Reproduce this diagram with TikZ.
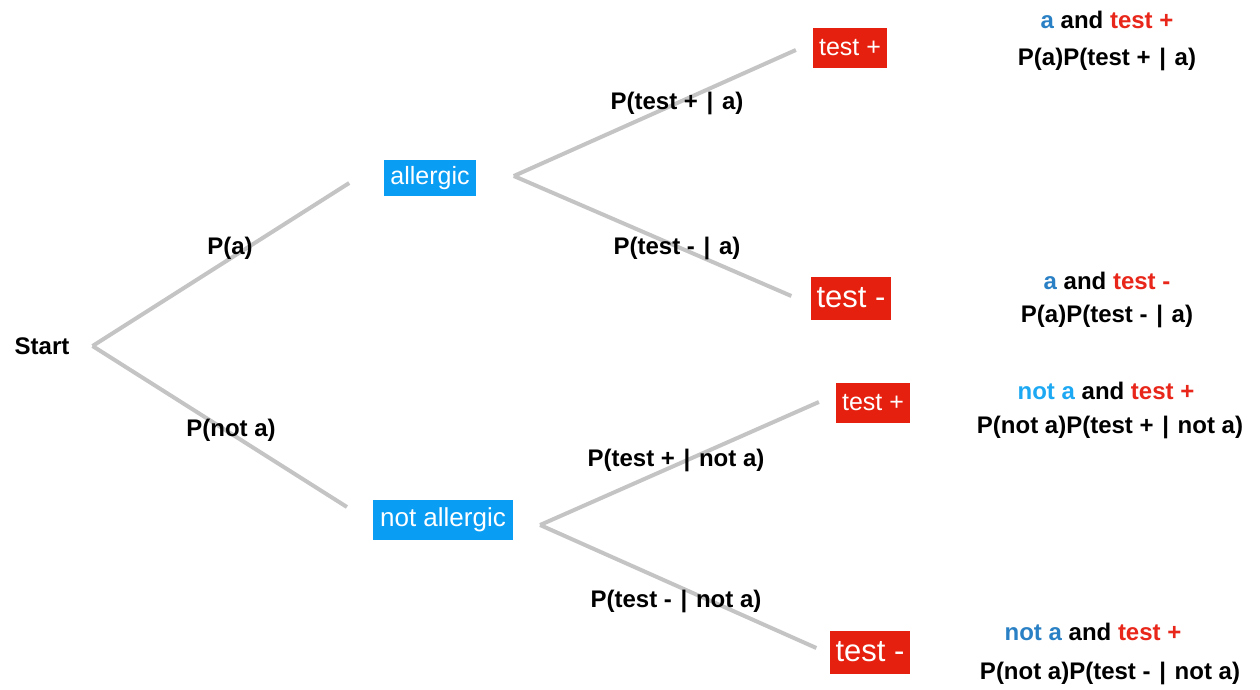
\documentclass[tikz,border=0pt]{standalone}
\usepackage{fontspec}
\setmainfont{Liberation Sans}
\usetikzlibrary{calc}
\definecolor{boxblue}{HTML}{0A9DF4}
\definecolor{boxred}{HTML}{E6200F}
\definecolor{txtred}{HTML}{E8261A}
\definecolor{txtblue}{HTML}{2A80C4}
\definecolor{txtlblue}{HTML}{1CA8F2}
\definecolor{linegray}{HTML}{C4C4C4}
\newcommand{\gbar}{\kern2pt|\kern2pt}
\tikzset{
  lbl/.style={font=\fontsize{24}{27}\selectfont\bfseries, text=black, inner sep=0pt},
  bluebox/.style={fill=boxblue, text=white, font=\fontsize{25}{28}\selectfont, inner sep=6pt, minimum height=36pt},
  redbox/.style={fill=boxred, text=white, font=\fontsize{25}{28}\selectfont, inner sep=6pt, minimum height=40pt},
  bigredbox/.style={fill=boxred, text=white, font=\fontsize{31}{34}\selectfont, inner sep=6pt, minimum height=43pt},
  branch/.style={draw=linegray, line width=4pt}
}
\begin{document}
\begin{tikzpicture}[x=1pt,y=-1pt]
\useasboundingbox (0,0) rectangle (1260,690);
% nodes
\node[lbl] (start) at (42,346) {Start};
\node[bluebox] (al) at (430,178) {allergic};
\node[bluebox, font=\fontsize{26}{29}\selectfont, inner xsep=7pt, minimum height=40pt] (na) at (443,520) {not allergic};
\node[redbox] (t1) at (850,48) {test +};
\node[bigredbox] (t2) at (851,298) {test -};
\node[redbox] (t3) at (873,403) {test +};
\node[bigredbox] (t4) at (870,652) {test -};
% connectors
\draw[branch] ($(start.east)+(23,0)$) -- ($(al.west)+(-35,5)$);
\draw[branch] ($(start.east)+(23,0)$) -- ($(na.west)+(-26,-13)$);
\draw[branch] ($(al.east)+(38,-2)$) -- ($(t1.west)+(-17,2)$);
\draw[branch] ($(al.east)+(38,-2)$) -- ($(t2.west)+(-19,-2)$);
\draw[branch] ($(na.east)+(27,5)$) -- ($(t3.west)+(-17,-1)$);
\draw[branch] ($(na.east)+(27,5)$) -- ($(t4.west)+(-13,-4)$);
% branch labels
\node[lbl] (pa) at (230,248) {P(a)};
\node[lbl] (pna) at (231,430) {P(not a)};
\node[lbl] (l1) at (677,103) {P(test + \gbar{} a)};
\node[lbl] (l2) at (677,248) {P(test - \gbar{} a)};
\node[lbl] (l3) at (676,460) {P(test + \gbar{} not a)};
\node[lbl] (l4) at (676,601) {P(test - \gbar{} not a)};
% outcomes
\node[lbl] (o1a) at (1107,20) {\textcolor{txtblue}{a} and \textcolor{txtred}{test +}};
\node[lbl] (o1b) at (1107,59) {P(a)P(test + \gbar{} a)};
\node[lbl] (o2a) at (1107,281) {\textcolor{txtblue}{a} and \textcolor{txtred}{test -}};
\node[lbl] (o2b) at (1107,316) {P(a)P(test - \gbar{} a)};
\node[lbl] (o3a) at (1106,391) {\textcolor{txtlblue}{not a} and \textcolor{txtred}{test +}};
\node[lbl] (o3b) at (1110,427) {P(not a)P(test + \gbar{} not a)};
\node[lbl] (o4a) at (1093,632) {\textcolor{txtblue}{not a} and \textcolor{txtred}{test +}};
\node[lbl] (o4b) at (1110,673) {P(not a)P(test - \gbar{} not a)};
\end{tikzpicture}
\end{document}
